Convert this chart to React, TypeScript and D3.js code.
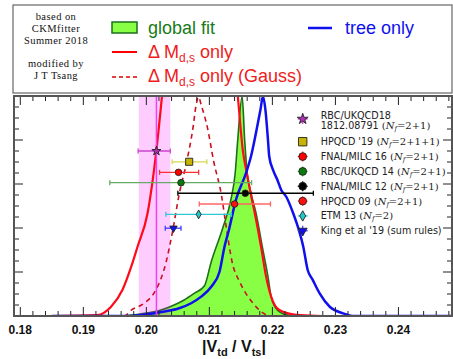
import React from 'react';
import * as d3 from 'd3';

// |Vtd/Vts| likelihood curves (arbitrary y units)
const redSolid: [number, number][] = [
  [0.185, 0], [0.1922, 0.004], [0.1944, 0.042], [0.1962, 0.118], [0.1976, 0.224],
  [0.1986, 0.315], [0.2002, 0.468], [0.2009, 0.595], [0.2016, 0.755], [0.2025, 1.005],
  [0.2040, 1.5], [0.2085, 1.9], [0.2130, 1.5], [0.2145, 1.005], [0.2153, 0.755],
  [0.2160, 0.64], [0.2166, 0.55], [0.2172, 0.468], [0.2182, 0.315], [0.2190, 0.179],
  [0.2198, 0.088], [0.2211, 0.027], [0.2238, 0.005], [0.228, 0], [0.25, 0],
];
const redGauss: [number, number][] = [
  [0.185, 0], [0.1965, 0], [0.1976, 0.027], [0.1997, 0.059], [0.2015, 0.118],
  [0.2031, 0.241], [0.2042, 0.391], [0.2052, 0.552], [0.2064, 0.701], [0.2074, 0.855],
  [0.2079, 0.96], [0.2083, 0.995], [0.2087, 0.96], [0.2097, 0.855], [0.2107, 0.701],
  [0.2119, 0.552], [0.2127, 0.40], [0.2136, 0.247], [0.2149, 0.15], [0.2169, 0.059],
  [0.2185, 0.014], [0.2195, 0], [0.25, 0],
];
const globalFit: [number, number][] = [
  [0.185, 0], [0.1957, 0], [0.1997, 0.012], [0.2023, 0.027], [0.2044, 0.05],
  [0.2060, 0.073], [0.2076, 0.103], [0.2092, 0.136], [0.2103, 0.247], [0.2121, 0.398],
  [0.2134, 0.527], [0.2141, 0.65], [0.2145, 0.80], [0.2152, 0.998], [0.2156, 0.80],
  [0.2160, 0.65], [0.2166, 0.56], [0.2174, 0.468], [0.2184, 0.315], [0.2193, 0.179],
  [0.2198, 0.088], [0.2208, 0.027], [0.2227, 0.003], [0.225, 0], [0.25, 0],
];
const treeOnly: [number, number][] = [
  [0.185, 0], [0.1973, 0], [0.1992, 0.005], [0.2029, 0.02], [0.2052, 0.035],
  [0.2071, 0.058], [0.2087, 0.088], [0.2103, 0.133], [0.2116, 0.2], [0.2124, 0.315],
  [0.2131, 0.391], [0.2142, 0.527], [0.2158, 0.648], [0.2166, 0.725], [0.2177, 0.877],
  [0.2181, 0.936], [0.2185, 0.998], [0.2189, 0.936], [0.2193, 0.80], [0.2195, 0.725],
  [0.2201, 0.664], [0.2208, 0.618], [0.2214, 0.573], [0.2222, 0.542], [0.2233, 0.467],
  [0.2242, 0.391], [0.2249, 0.315], [0.2256, 0.209], [0.2264, 0.164], [0.2275, 0.103],
  [0.2291, 0.042], [0.2312, 0.012], [0.2330, 0], [0.25, 0],
];

// lattice results
const labNames = ['RBC/UKQCD18', "HPQCD '19", 'FNAL/MILC 16', 'RBC/UKQCD 14', 'FNAL/MILC 12', 'HPQCD 09', 'ETM 13', "King et al '19 (sum rules)"];
const labNf = ['2+1', '2+1+1', '2+1', '2+1', '2+1', '2+1', '2', ''];
const labValue = [0.2016, 0.2068, 0.2051, 0.2055, 0.2157, 0.2140, 0.2083, 0.2043];
const labLow = [0.1987, 0.2041, 0.2021, 0.1942, 0.2050, 0.2084, 0.2031, 0.2030];
const labHigh = [0.2038, 0.2096, 0.2083, 0.2167, 0.2265, 0.2197, 0.2135, 0.2055];
const labLevel = [0.75, 0.701, 0.653, 0.606, 0.558, 0.509, 0.462, 0.399];
const labSymbol = ['star', 'square', 'circle', 'circle', 'circle', 'circle', 'diamond', 'triangle'];
const labFill = ['#b030b8', '#c8b400', '#ff0000', '#0a7a0a', '#000000', '#ff1010', '#20c8c8', '#1010ee'];
const labBar = ['#cc44cc', '#d8d850', '#ff3030', '#66aa66', '#000000', '#ff6464', '#30c8d0', '#3c3cff'];

const band = [0.1988, 0.2038];
const bandCentre = 0.2016;
const xTickValues = [0.18, 0.19, 0.20, 0.21, 0.22, 0.23, 0.24];
const xTickLabels = ['0.18', '0.19', '0.20', '0.21', '0.22', '0.23', '0.24'];

const W = 453, H = 359;
const L = 14, R = 452, T = 96, B = 316;

const symbolFor = (s: string) => {
  if (s === 'star') return d3.symbolStar;
  if (s === 'square') return d3.symbolSquare;
  if (s === 'diamond') return d3.symbolDiamond;
  if (s === 'triangle') return d3.symbolTriangle;
  return d3.symbolCircle;
};
const sizeFor = (s: string) => (s === 'star' ? 26 : s === 'square' ? 50 : s === 'diamond' ? 22 : s === 'triangle' ? 24 : 34);

const Marker = ({ cx, cy, i, k = 1 }: { cx: number; cy: number; i: number; k?: number }) => {
  const s = labSymbol[i];
  const path = d3.symbol().type(symbolFor(s)).size(sizeFor(s) * k)()!;
  const rot = s === 'triangle' ? 'rotate(180)' : '';
  return (
    <path d={path} transform={`translate(${cx},${cy}) ${rot}`} fill={labFill[i]} stroke="#222" strokeWidth={0.9} />
  );
};

export default function App() {
  const x = d3.scaleLinear().domain([0.179, 0.2485]).range([L, R]);
  const y = d3.scaleLinear().domain([0, 1]).range([B, T]);

  const line = d3.line<[number, number]>().x(d => x(d[0])).y(d => y(d[1])).curve(d3.curveMonotoneX);
  const area = d3.area<[number, number]>().x(d => x(d[0])).y0(y(0)).y1(d => y(d[1])).curve(d3.curveMonotoneX);

  const minorX = d3.range(0.18, 0.2485, 0.002);
  const yMinor = d3.range(0, 1.001, 0.05);
  const yMajor = d3.range(0, 1.001, 0.2);

  const legendY = (i: number) => (i === 0 ? 119 : 141.7 + (i - 1) * 14.85);
  const legX = 302.7, legTextX = 320.7;

  return (
    <svg width={W} height={H} style={{ position: 'absolute', left: 0, top: 0 }} fontFamily="Liberation Sans, Arial, sans-serif">
      <rect width={W} height={H} fill="#fff" />
      <defs>
        <clipPath id="plot"><rect x={L} y={T} width={R - L} height={B - T} /></clipPath>
      </defs>

      {/* top legend box */}
      <rect x={13} y={5} width={439} height={88} fill="#fff" stroke="#666" strokeWidth={1.2} />
      <g fontFamily="Liberation Serif, Times New Roman, serif" fontSize={10.5} letterSpacing={0.45} textAnchor="middle" fill="#111">
        <text x={56} y={20}>based on</text>
        <text x={56} y={32}>CKMfitter</text>
        <text x={56} y={44}>Summer 2018</text>
        <text x={56} y={66.5}>modified by</text>
        <text x={56} y={78.5}>J T Tsang</text>
      </g>
      <rect x={112} y={22} width={25} height={11} fill="#88ff44" stroke="#1d6e1d" strokeWidth={1.5} />
      <text x={148} y={34} fontSize={18} fill="#1a7a1a">global fit</text>
      <line x1={112} x2={137} y1={52} y2={52} stroke="#ff0000" strokeWidth={2} />
      <text x={148} y={58} fontSize={18} fill="#ee1c1c">
        Δ M<tspan fontSize={12} dy={4}>d,s</tspan><tspan dy={-4}> only</tspan>
      </text>
      <line x1={112} x2={137} y1={77} y2={77} stroke="#dd0000" strokeWidth={1.5} strokeDasharray="4,3" />
      <text x={148} y={82} fontSize={18} fill="#ee1c1c">
        Δ M<tspan fontSize={12} dy={4}>d,s</tspan><tspan dy={-4}> only (Gauss)</tspan>
      </text>
      <line x1={308} x2={332} y1={28} y2={28} stroke="#1010ee" strokeWidth={2.5} />
      <text x={345} y={33.5} fontSize={18} fill="#1010ee">tree only</text>

      {/* curves */}
      <g clipPath="url(#plot)">
        <path d={area(globalFit)!} fill="#88ff44" />
        <path d={line(globalFit)!} fill="none" stroke="#1d6e1d" strokeWidth={1.6} />
        <rect x={x(band[0])} y={T} width={x(band[1]) - x(band[0])} height={B - T} fill="#ff00ff" opacity={0.2} />
        <path d={line(redGauss)!} fill="none" stroke="#cc1020" strokeWidth={1.6} strokeDasharray="5,4" />
        <path d={line(redSolid)!} fill="none" stroke="#ff0a1a" strokeWidth={2.2} />
        <path d={line(treeOnly)!} fill="none" stroke="#1010ee" strokeWidth={2.5} />
        <line x1={x(bandCentre)} x2={x(bandCentre)} y1={T} y2={B} stroke="#ee40ee" strokeWidth={1.5} />
      </g>

      {/* lattice points */}
      {labValue.map((v, i) => {
        const cy = y(labLevel[i]);
        return (
          <g key={i}>
            <line x1={x(labLow[i])} x2={x(labHigh[i])} y1={cy} y2={cy} stroke={labBar[i]} strokeWidth={1.3} />
            <line x1={x(labLow[i])} x2={x(labLow[i])} y1={cy - 2.5} y2={cy + 2.5} stroke={labBar[i]} strokeWidth={1.3} />
            <line x1={x(labHigh[i])} x2={x(labHigh[i])} y1={cy - 2.5} y2={cy + 2.5} stroke={labBar[i]} strokeWidth={1.3} />
            <Marker cx={x(v)} cy={cy} i={i} />
          </g>
        );
      })}

      {/* frame and ticks */}
      <g stroke="#222" strokeWidth={1}>
        {minorX.map((t, i) => {
          const major = xTickValues.some(m => Math.abs(m - t) < 1e-6);
          const len = major ? 9 : 5;
          return (
            <g key={i}>
              <line x1={x(t)} x2={x(t)} y1={B} y2={B - len} />
              <line x1={x(t)} x2={x(t)} y1={T} y2={T + len} />
            </g>
          );
        })}
        {yMinor.map((t, i) => {
          const major = yMajor.some(m => Math.abs(m - t) < 1e-6);
          const len = major ? 9 : 5;
          return (
            <g key={i}>
              <line x1={L} x2={L + len} y1={y(t)} y2={y(t)} />
              <line x1={R} x2={R - len} y1={y(t)} y2={y(t)} />
            </g>
          );
        })}
      </g>
      <rect x={L} y={T} width={R - L} height={B - T} fill="none" stroke="#555" strokeWidth={2} />

      {/* right legend */}
      {labNames.map((n, i) => {
        const cy = legendY(i);
        const nf = labNf[i];
        const nfText = nf ? (
          <tspan fontFamily="DejaVu Serif, serif" fontSize={10}>
            {' ('}<tspan fontStyle="italic">N</tspan><tspan fontStyle="italic" fontSize={6.5} dy={2}>f</tspan><tspan dy={-2}>{'=' + nf + ')'}</tspan>
          </tspan>
        ) : null;
        return (
          <g key={i}>
            <line x1={legX - 5} x2={legX + 5} y1={cy} y2={cy} stroke={labBar[i]} strokeWidth={1.2} />
            <line x1={legX} x2={legX} y1={cy - 5} y2={cy + 5} stroke={labBar[i]} strokeWidth={1.2} />
            <Marker cx={legX} cy={cy} i={i} k={1.4} />
            {i === 0 ? (
              <text x={legTextX} fontFamily="DejaVu Sans, sans-serif" fontSize={9.6} fill="#222">
                <tspan x={legTextX} y={cy - 0.5}>{n}</tspan>
                <tspan x={legTextX} y={cy + 10}>1812.08791{nfText}</tspan>
              </text>
            ) : (
              <text x={legTextX} y={cy + 3.5} fontFamily="DejaVu Sans, sans-serif" fontSize={9.6} fill="#222">
                {n}{nfText}
              </text>
            )}
          </g>
        );
      })}

      {/* x tick labels and title */}
      {xTickValues.map((t, i) => (
        <text key={i} x={x(t)} y={334} textAnchor="middle" fontSize={12} fontWeight="bold" fill="#111">{xTickLabels[i]}</text>
      ))}
      <text x={234} y={352} textAnchor="middle" fontSize={16} fontWeight="bold" fill="#111">
        |V<tspan fontSize={11} dy={4}>td</tspan><tspan dy={-4}> / V</tspan><tspan fontSize={11} dy={4}>ts</tspan><tspan dy={-4}>|</tspan>
      </text>
    </svg>
  );
}
